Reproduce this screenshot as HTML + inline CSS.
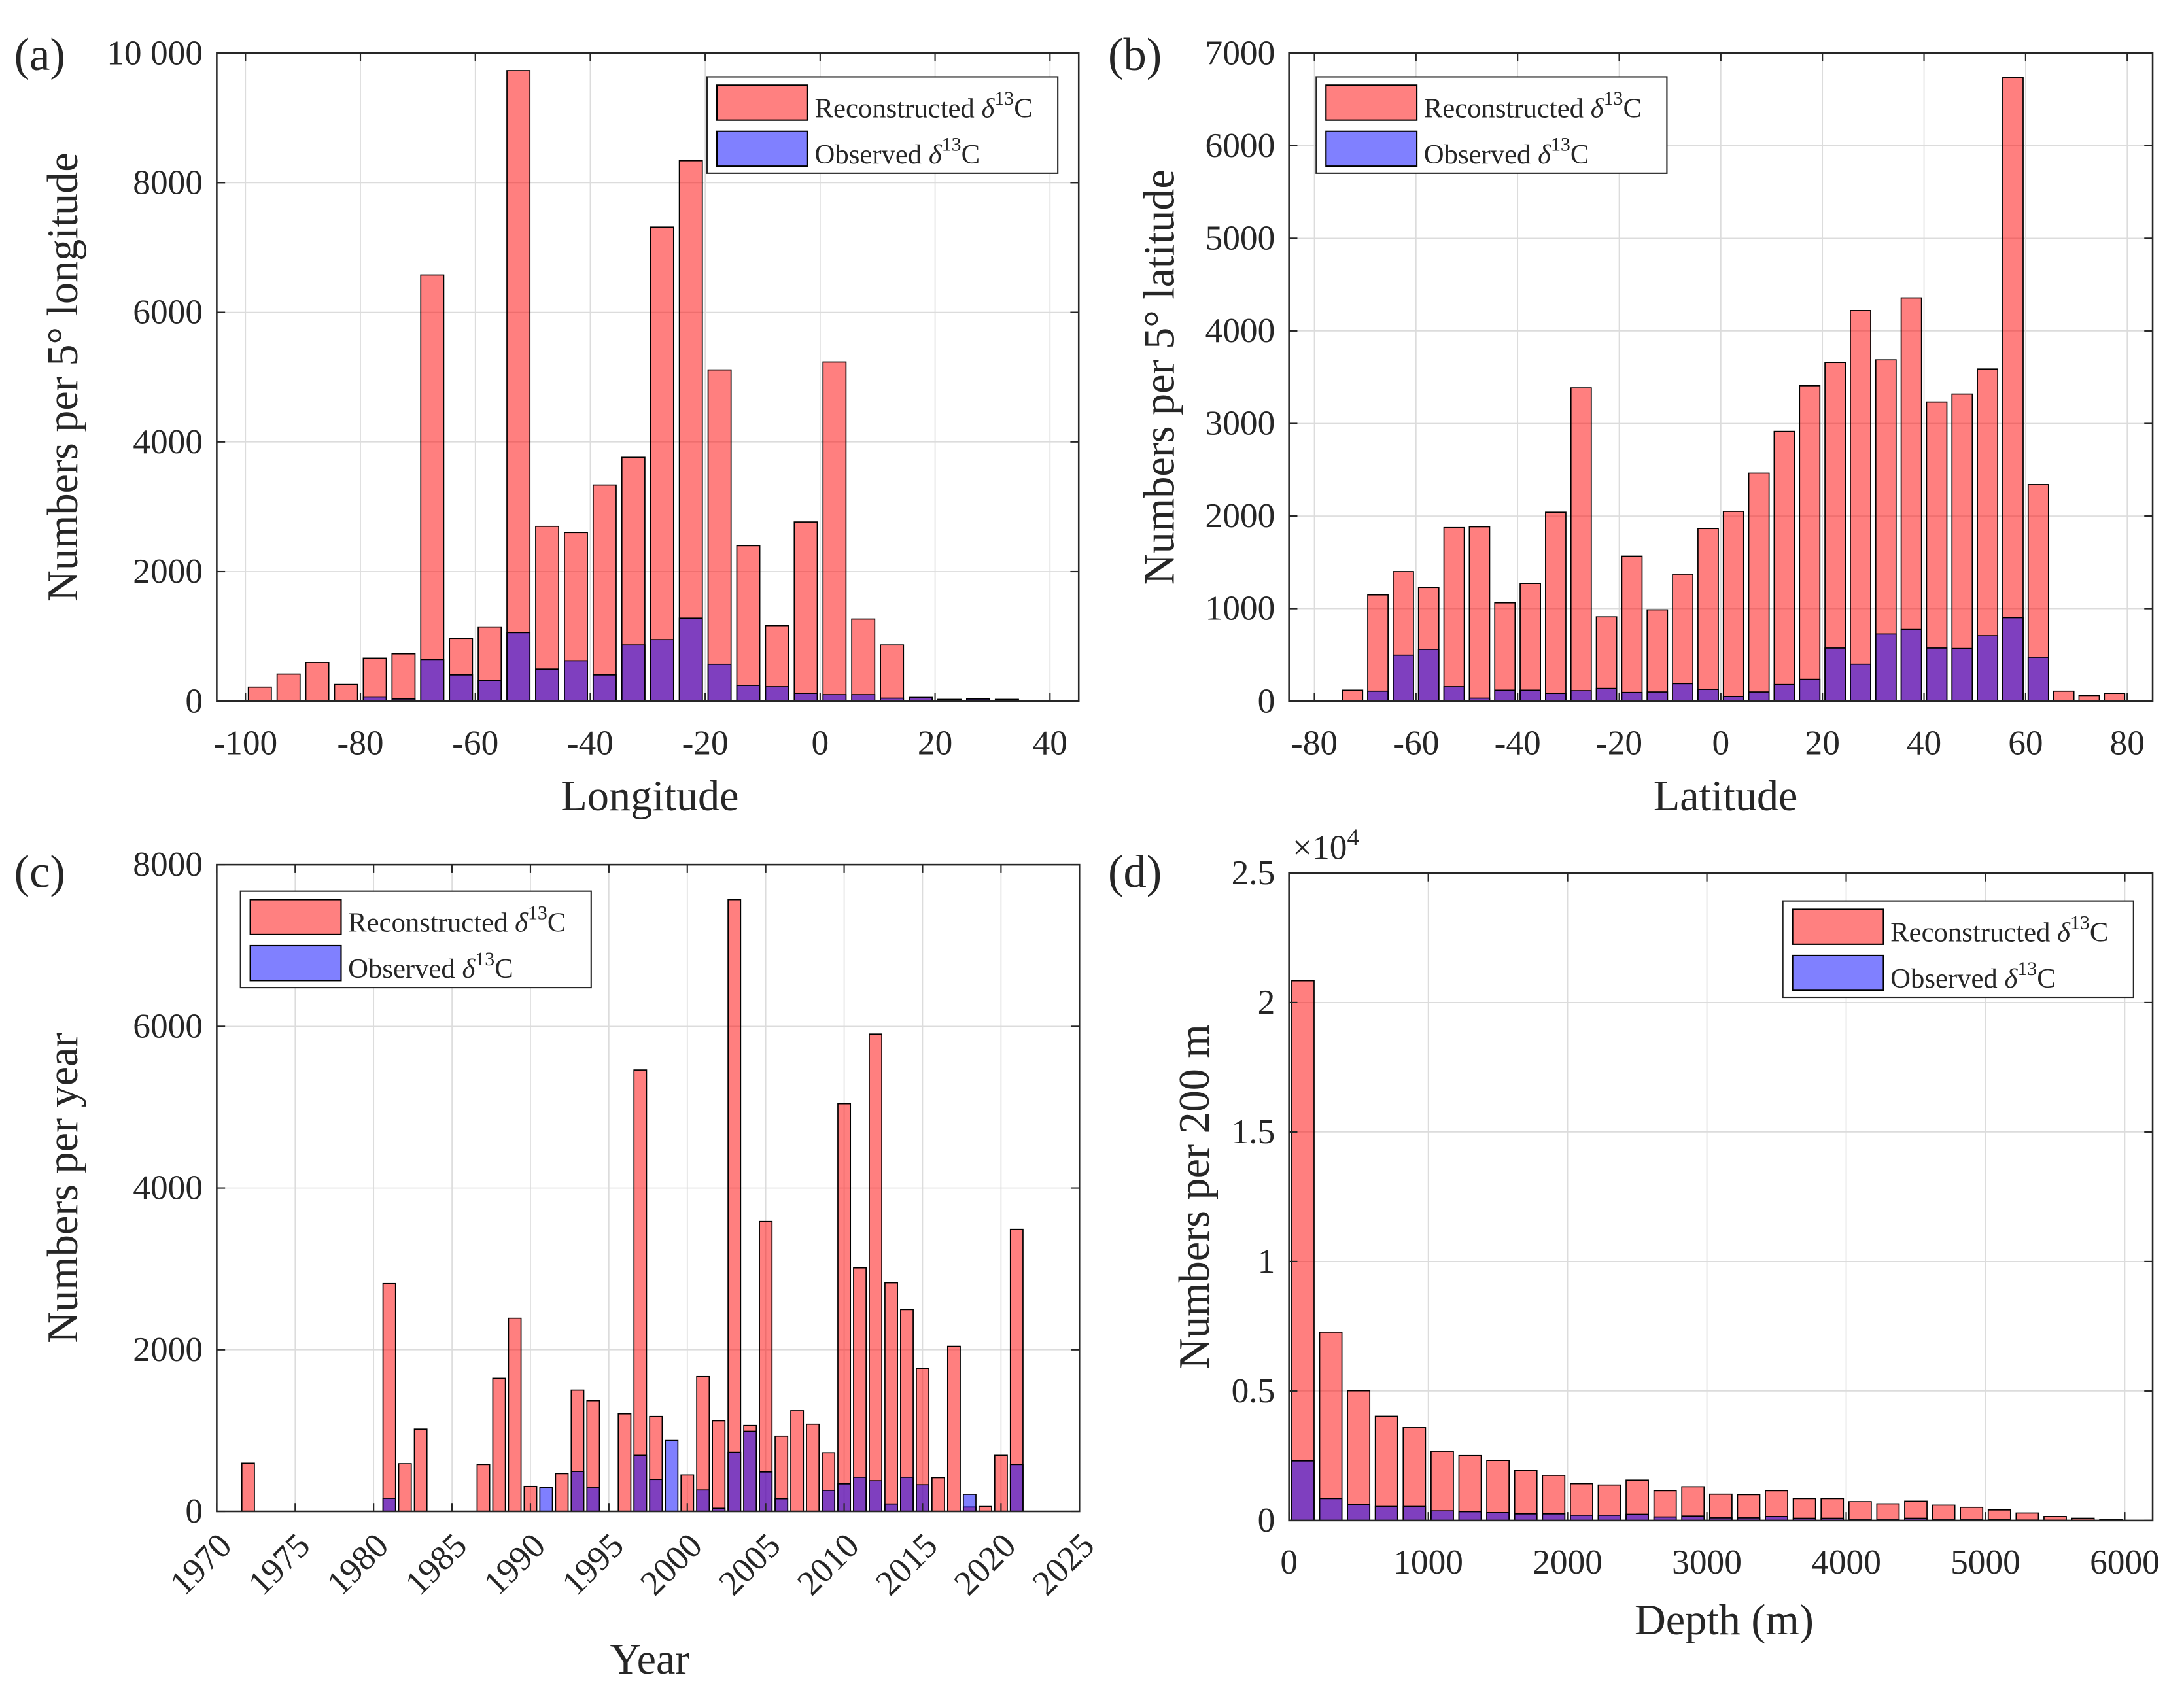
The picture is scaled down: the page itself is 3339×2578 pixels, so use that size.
<!DOCTYPE html>
<html><head><meta charset="utf-8"><style>
html,body{margin:0;padding:0;background:#fff}
svg{display:block}
svg, svg text{font-family:"Liberation Serif","DejaVu Serif",serif}
text{fill:#262626}
</style></head><body>
<svg id="fig" xmlns="http://www.w3.org/2000/svg" width="3339" height="2578" viewBox="0 0 1563 1207" font-family="Liberation Serif, DejaVu Serif, serif">
<rect width="1563" height="1207" fill="#fff"/>
</svg>
<script>
// Panel (a) longitude
const lonCenters=[-97.5,-92.5,-87.5,-82.5,-77.5,-72.5,-67.5,-62.5,-57.5,-52.5,-47.5,-42.5,-37.5,-32.5,-27.5,-22.5,-17.5,-12.5,-7.5,-2.5,2.5,7.5,12.5,17.5,22.5,27.5,32.5,37.5];
const lonRecon=[217,420,597,258,664,732,6576,969,1146,9729,2698,2603,3336,3763,7315,8339,5112,2400,1166,2766,5234,1268,868,68,27,34,27,0];
const lonObs=[0,0,0,0,68,34,644,407,319,1058,495,624,407,868,949,1281,569,244,224,122,102,102,47,54,27,34,27,0];
const lonXTicks=[-100,-80,-60,-40,-20,0,20,40];
const lonYTicks=[0,2000,4000,6000,8000,10000];
const lonYLabels=["0","2000","4000","6000","8000","10 000"];
// Panel (b) latitude
const latCenters=[-77.5,-72.5,-67.5,-62.5,-57.5,-52.5,-47.5,-42.5,-37.5,-32.5,-27.5,-22.5,-17.5,-12.5,-7.5,-2.5,2.5,7.5,12.5,17.5,22.5,27.5,32.5,37.5,42.5,47.5,52.5,57.5,62.5,67.5,72.5,77.5];
const latRecon=[0,119,1148,1400,1229,1875,1884,1063,1272,2041,3384,911,1566,987,1372,1865,2050,2463,2914,3407,3659,4219,3687,4356,3232,3317,3588,6739,2340,109,62,85];
const latObs=[0,0,109,498,560,157,33,119,119,85,114,138,95,100,190,128,52,100,180,237,574,399,726,774,574,569,707,902,475,0,0,0];
const latXTicks=[-80,-60,-40,-20,0,20,40,60,80];
const latYTicks=[0,1000,2000,3000,4000,5000,6000,7000];
// Panel (c) year
const years=[1972,1973,1974,1975,1976,1977,1978,1979,1980,1981,1982,1983,1984,1985,1986,1987,1988,1989,1990,1991,1992,1993,1994,1995,1996,1997,1998,1999,2000,2001,2002,2003,2004,2005,2006,2007,2008,2009,2010,2011,2012,2013,2014,2015,2016,2017,2018,2019,2020,2021];
const yearRecon=[596,0,0,0,0,0,0,0,0,2817,590,1018,0,0,0,580,1647,2389,309,0,466,1500,1370,0,1208,5460,1175,0,450,1668,1121,7567,1062,3586,932,1246,1078,726,5043,3012,5904,2827,2497,1766,417,2042,54,60,693,3489];
const yearObs=[0,0,0,0,0,0,0,0,0,162,0,0,0,0,0,0,0,0,0,298,0,493,292,0,0,693,395,877,0,265,38,731,991,487,157,0,0,260,341,422,379,92,422,330,0,0,211,0,0,580];
const yearXTicks=[1970,1975,1980,1985,1990,1995,2000,2005,2010,2015,2020,2025];
const yearYTicks=[0,2000,4000,6000,8000];
// Panel (d) depth
const depthCenters=[100,300,500,700,900,1100,1300,1500,1700,1900,2100,2300,2500,2700,2900,3100,3300,3500,3700,3900,4100,4300,4500,4700,4900,5100,5300,5500,5700,5900];
const depthRecon=[20840,7273,5007,4026,3586,2673,2503,2317,1928,1742,1421,1370,1556,1150,1302,1015,998,1150,846,846,727,643,744,592,507,406,288,152,85,34];
const depthObs=[2300,846,609,541,541,372,338,304,254,254,203,203,237,135,169,101,101,152,85,85,51,51,85,51,51,34,17,10,5,2];
const depthXTicks=[0,1000,2000,3000,4000,5000,6000];
const depthYTicks=[0,5000,10000,15000,20000,25000];
const depthYLabels=["0","0.5","1","1.5","2","2.5"];

const NS="http://www.w3.org/2000/svg";
const FONT="Liberation Serif, DejaVu Serif, serif";
const svg=document.getElementById('fig');
function mk(tag,attrs,parent){const e=document.createElementNS(NS,tag);for(const k in attrs)e.setAttribute(k,attrs[k]);if(tag==='text')e.setAttribute('font-family',FONT);(parent||svg).appendChild(e);return e;}

function panel(p){
  const g=mk('g',{});
  
  
  const sx=v=>p.x0+(v-p.xmin)/(p.xmax-p.xmin)*(p.x1-p.x0);
  const sy=v=>p.y1-(v-p.ymin)/(p.ymax-p.ymin)*(p.y1-p.y0);
  p.xticks.forEach(t=>{const X=sx(t);if(X>p.x0+1&&X<p.x1-1){const l=mk('line',{x1:X,x2:X,y1:p.y0,y2:p.y1,stroke:'#dcdcdc','stroke-width':0.8},g);}});
  p.yticks.forEach(t=>{const Y=sy(t);if(Y>p.y0+1&&Y<p.y1-1){const l=mk('line',{x1:p.x0,x2:p.x1,y1:Y,y2:Y,stroke:'#dcdcdc','stroke-width':0.8},g);}});
  const bw=p.bw;
  for(let i=0;i<p.cats.length;i++){
    const c=p.cats[i],v=p.recon[i];
    const X=sx(c-bw/2),W=sx(c+bw/2)-X,Y=sy(v);
    const r=mk('rect',{x:X,y:Y,width:W,height:Math.max(0,p.y1-Y),fill:'rgba(255,0,0,0.5)',stroke:'#000','stroke-width':0.8},g);
    
    
  }
  for(let i=0;i<p.cats.length;i++){
    const c=p.cats[i],v=p.obs[i];
    const X=sx(c-bw/2),W=sx(c+bw/2)-X,Y=sy(v);
    const r=mk('rect',{x:X,y:Y,width:W,height:Math.max(0,p.y1-Y),fill:'rgba(0,0,255,0.5)',stroke:'#000','stroke-width':0.8},g);
    
    
  }
  const b=mk('rect',{x:p.x0,y:p.y0,width:p.x1-p.x0,height:p.y1-p.y0,fill:'none',stroke:'#262626','stroke-width':1.2},g);
  
  
  p.xticks.forEach((t,i)=>{const X=sx(t);
    mk('line',{x1:X,x2:X,y1:p.y1,y2:p.y1-6,stroke:'#262626','stroke-width':1},g);
    mk('line',{x1:X,x2:X,y1:p.y0,y2:p.y0+6,stroke:'#262626','stroke-width':1},g);
    let tx;
    if(p.rotX){tx=mk('text',{x:X+12,y:p.y1+26,'text-anchor':'end','font-size':25,transform:`rotate(-45 ${X+12} ${p.y1+26})`},g);}
    else{tx=mk('text',{x:X,y:p.y1+38,'text-anchor':'middle','font-size':25},g);}
    tx.textContent=String(t);
    
    
  });
  p.yticks.forEach((t,i)=>{const Y=sy(t);
    mk('line',{x1:p.x0,x2:p.x0+6,y1:Y,y2:Y,stroke:'#262626','stroke-width':1},g);
    mk('line',{x1:p.x1,x2:p.x1-6,y1:Y,y2:Y,stroke:'#262626','stroke-width':1},g);
    const tx=mk('text',{x:p.x0-10,y:Y+8,'text-anchor':'end','font-size':25},g);
    tx.textContent=p.ylabels?p.ylabels[i]:String(t);
    
    
  });
  const xt=mk('text',{x:p.xlabX,y:p.xlabY,'text-anchor':'middle','font-size':31},g);
  xt.textContent=p.xlabel;
  
  
  const yt=mk('text',{x:p.ylabX,y:(p.y0+p.y1)/2,'text-anchor':'middle','font-size':31,transform:`rotate(-90 ${p.ylabX} ${(p.y0+p.y1)/2})`},g);
  yt.textContent=p.ylabel;
  
  
  const pl=mk('text',{x:p.plX,y:p.plY,'font-size':33},g);
  pl.textContent=p.letter;
  
  
  const L=p.leg;
  const lg=mk('g',{},g);
  
  
  mk('rect',{x:L[0],y:L[1],width:251,height:69,fill:'#fff',stroke:'#262626','stroke-width':1},lg);
  const s1=mk('rect',{x:L[0]+7,y:L[1]+6,width:65,height:25,fill:'#ff8080',stroke:'#000','stroke-width':1},lg);
  
  
  const s2=mk('rect',{x:L[0]+7,y:L[1]+39,width:65,height:25,fill:'#8080ff',stroke:'#000','stroke-width':1},lg);
  
  
  const t1=mk('text',{x:L[0]+77,y:L[1]+29,'font-size':20},lg);
  t1.innerHTML='Reconstructed <tspan font-style="italic">δ</tspan><tspan font-size="14" dy="-9">13</tspan><tspan dy="9">C</tspan>';
  
  
  const t2=mk('text',{x:L[0]+77,y:L[1]+62,'font-size':20},lg);
  t2.innerHTML='Observed <tspan font-style="italic">δ</tspan><tspan font-size="14" dy="-9">13</tspan><tspan dy="9">C</tspan>';
  
  
  return g;
}

panel({name:'panel-a-longitude',letter:'(a)',plX:10,plY:50,x0:155,x1:772,y0:38,y1:502,xmin:-105,xmax:45,ymin:0,ymax:10000,
  cats:lonCenters,recon:lonRecon,obs:lonObs,bw:4,xticks:lonXTicks,yticks:lonYTicks,ylabels:lonYLabels,
  xlabel:'Longitude',xlabX:465,xlabY:580,ylabel:'Numbers per 5° longitude',ylabX:55,leg:[506,55]});
panel({name:'panel-b-latitude',letter:'(b)',plX:793,plY:50,x0:922.5,x1:1540.7,y0:38,y1:502,xmin:-85,xmax:85,ymin:0,ymax:7000,
  cats:latCenters,recon:latRecon,obs:latObs,bw:4,xticks:latXTicks,yticks:latYTicks,
  xlabel:'Latitude',xlabX:1235,xlabY:580,ylabel:'Numbers per 5° latitude',ylabX:840,leg:[942,55]});
panel({name:'panel-c-year',letter:'(c)',plX:10,plY:635,x0:155,x1:772.5,y0:619,y1:1082,xmin:1970,xmax:2025,ymin:0,ymax:8000,
  cats:years,recon:yearRecon,obs:yearObs,bw:0.8,xticks:yearXTicks,yticks:yearYTicks,rotX:true,
  xlabel:'Year',xlabX:465,xlabY:1198,ylabel:'Numbers per year',ylabX:55,leg:[172,638]});
panel({name:'panel-d-depth',letter:'(d)',plX:793,plY:635,x0:922.5,x1:1540.7,y0:625,y1:1088.5,xmin:0,xmax:6200,ymin:0,ymax:25000,
  cats:depthCenters,recon:depthRecon,obs:depthObs,bw:160,xticks:depthXTicks,yticks:depthYTicks,ylabels:depthYLabels,
  xlabel:'Depth (m)',xlabX:1234,xlabY:1170,ylabel:'Numbers per 200 m',ylabX:865,leg:[1276,645]});
const ex=mk('text',{x:925,y:615,'font-size':25});
ex.innerHTML='×10<tspan font-size="17" dy="-10">4</tspan>';


</script>
</body></html>
